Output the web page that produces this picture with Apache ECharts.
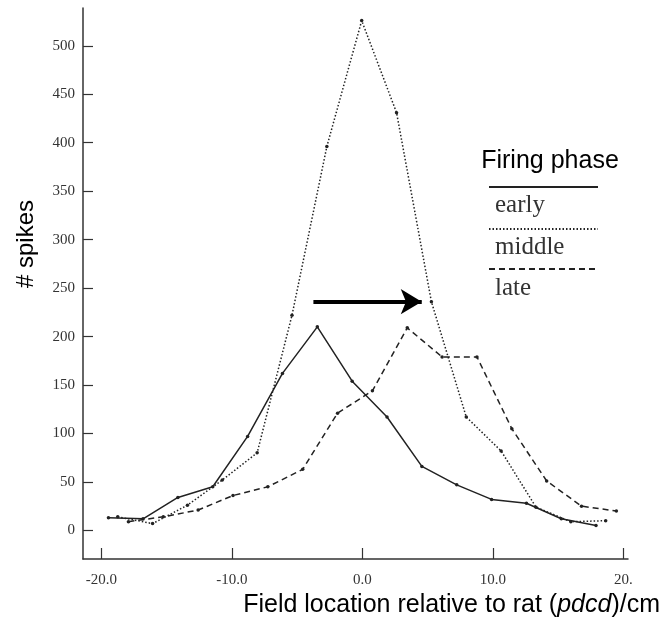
<!DOCTYPE html>
<html>
<head>
<meta charset="utf-8">
<script src="https://cdn.jsdelivr.net/npm/echarts@6/dist/echarts.min.js"></script>
<style>
html,body{margin:0;padding:0;background:#fff;}
#chart{width:663px;height:619px;}
</style>
</head>
<body>
<div id="chart"></div>
<script>
// ---- data ----
const earlyX  = [-19.45, -16.8, -14.13, -11.46, -8.79, -6.12, -3.45, -0.78, 1.89, 4.56, 7.23, 9.9, 12.57, 15.24, 17.9];
const earlyY  = [13, 12, 34, 45, 97, 162, 210, 154, 117, 66, 47, 32, 28, 12, 5];
const middleX = [-18.74, -16.07, -13.4, -10.73, -8.06, -5.39, -2.72, -0.05, 2.62, 5.29, 7.96, 10.63, 13.3, 15.97, 18.64];
const middleY = [14, 7, 26, 52, 80, 222, 396, 526, 431, 236, 117, 82, 24, 9, 10];
const lateX   = [-17.92, -15.25, -12.58, -9.91, -7.24, -4.57, -1.9, 0.77, 3.44, 6.11, 8.78, 11.45, 14.12, 16.79, 19.46];
const lateY   = [9, 14, 21, 36, 45, 63, 121, 144, 209, 179, 179, 105, 51, 25, 20];
const xTicks = [-20, -10, 0, 10, 20];
const xTickLabels = ['-20.0', '-10.0', '0.0', '10.0', '20.'];
const yTicks = [0, 50, 100, 150, 200, 250, 300, 350, 400, 450, 500];
const seriesNames = ['early', 'middle', 'late'];
const arrowY = 236, arrowFrom = -3.75, arrowTo = 4.55;

const pair = (xs, ys) => xs.map((x, i) => [x, ys[i]]);

const chart = echarts.init(document.getElementById('chart'), null, {renderer: 'canvas'});
const ink = '#222';
const serif = '"Liberation Serif", "DejaVu Serif", serif';
const sans = '"Liberation Sans", Arial, sans-serif';

chart.setOption({
  animation: false,
  backgroundColor: '#fff',
  grid: {left: 83, right: 35, top: 8, bottom: 60},
  xAxis: {
    type: 'value', min: -21.4, max: 20.35,
    axisLine: {show: true, onZero: false, lineStyle: {color: '#333', width: 1.5}},
    axisTick: {show: true, inside: true, length: 11, customValues: xTicks, lineStyle: {color: '#333', width: 1.2}},
    axisLabel: {show: true, customValues: xTicks, margin: 14, color: '#333', fontFamily: serif, fontSize: 15,
      formatter: v => xTickLabels[xTicks.indexOf(Math.round(v))]},
    splitLine: {show: false}
  },
  yAxis: {
    type: 'value', min: -29.5, max: 539,
    axisLine: {show: true, onZero: false, lineStyle: {color: '#333', width: 1.5}},
    axisTick: {show: true, inside: true, length: 10, customValues: yTicks, lineStyle: {color: '#333', width: 1.2}},
    axisLabel: {show: true, customValues: yTicks, margin: 8, color: '#333', fontFamily: serif, fontSize: 15},
    splitLine: {show: false}
  },
  series: [
    {name: seriesNames[0], type: 'line', data: pair(earlyX, earlyY), symbol: 'circle', symbolSize: 3.5,
     itemStyle: {color: ink}, lineStyle: {color: ink, width: 1.5, type: 'solid'}},
    {name: seriesNames[1], type: 'line', data: pair(middleX, middleY), symbol: 'circle', symbolSize: 3.5,
     itemStyle: {color: ink}, lineStyle: {color: ink, width: 1.5, type: [1.5, 2]},
     markLine: {silent: true, symbol: ['none', 'arrow'], symbolSize: [19, 21], label: {show: false},
       lineStyle: {color: '#000', width: 4, type: 'solid'},
       data: [[{coord: [arrowFrom, arrowY]}, {coord: [arrowTo, arrowY]}]]}},
    {name: seriesNames[2], type: 'line', data: pair(lateX, lateY), symbol: 'circle', symbolSize: 3.5,
     itemStyle: {color: ink}, lineStyle: {color: ink, width: 1.5, type: [6, 4]}}
  ],
  graphic: [
    {type: 'text', x: 26, y: 244, rotation: Math.PI / 2,
     style: {text: '# spikes', font: '24px ' + sans, fill: '#000', align: 'center', verticalAlign: 'middle'}},
    {type: 'text', x: 660, y: 605,
     style: {rich: {n: {font: '25px ' + sans, fill: '#000'}, i: {font: 'italic 25px ' + sans, fill: '#000'}},
       text: '{n|Field location relative to rat (}{i|pdcd}{n|)/cm}', align: 'right', verticalAlign: 'middle'}},
    {type: 'text', x: 550, y: 161, style: {text: 'Firing phase', font: '25px ' + sans, fill: '#000', align: 'center', verticalAlign: 'middle'}},
    {type: 'line', shape: {x1: 489, y1: 187, x2: 598, y2: 187}, style: {stroke: ink, lineWidth: 1.8}},
    {type: 'text', x: 495, y: 205, style: {text: 'early', font: '25px ' + serif, fill: '#333', verticalAlign: 'middle'}},
    {type: 'line', shape: {x1: 489, y1: 229, x2: 598, y2: 229}, style: {stroke: ink, lineWidth: 1.8, lineDash: [1.5, 2]}},
    {type: 'text', x: 495, y: 247, style: {text: 'middle', font: '25px ' + serif, fill: '#333', verticalAlign: 'middle'}},
    {type: 'line', shape: {x1: 489, y1: 269, x2: 598, y2: 269}, style: {stroke: ink, lineWidth: 1.8, lineDash: [6, 4]}},
    {type: 'text', x: 495, y: 288, style: {text: 'late', font: '25px ' + serif, fill: '#333', verticalAlign: 'middle'}}
  ]
});
</script>
</body>
</html>
